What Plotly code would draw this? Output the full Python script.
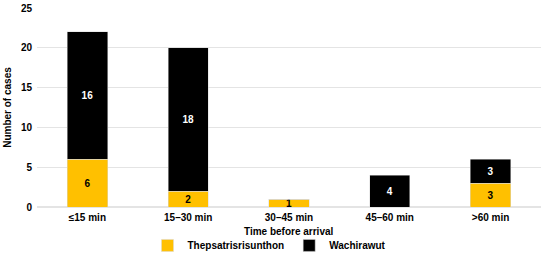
import plotly.graph_objects as go

categories = ["≤15 min", "15–30 min", "30–45 min", "45–60 min", ">60 min"]
thep = [6, 2, 1, 0, 3]
wachi = [16, 18, 0, 4, 3]
y_ticks = [0, 5, 10, 15, 20, 25]
x_title = "Time before arrival"
y_title = "Number of cases"

FONT = "Liberation Sans, Arial, sans-serif"
FS = 10

def labels(vals):
    return [str(v) if v else "" for v in vals]

fig = go.Figure()
fig.add_trace(go.Bar(
    x=categories, y=thep, name="Thepsatrisrisunthon",
    marker=dict(color="#FFC000", line=dict(color="#d9d9d9", width=0.5)),
    text=labels(thep), textposition="inside", insidetextanchor="middle", textangle=0,
    textfont=dict(family=FONT, size=FS, color="black", weight="bold"),
))
fig.add_trace(go.Bar(
    x=categories, y=wachi, name="Wachirawut",
    marker=dict(color="#000000", line=dict(color="#d9d9d9", width=0.5)),
    text=labels(wachi), textposition="inside", insidetextanchor="middle", textangle=0,
    textfont=dict(family=FONT, size=FS, color="white", weight="bold"),
))

fig.update_layout(
    barmode="stack", bargap=0.6,
    width=550, height=253,
    margin=dict(l=37, r=9, t=8, b=46, autoexpand=False),
    plot_bgcolor="white", paper_bgcolor="white",
    font=dict(family=FONT, size=FS, color="black", weight="bold"),
    uniformtext=dict(minsize=FS, mode="show"),
    showlegend=True,
    legend=dict(orientation="h", xref="container", yref="container",
                x=0.49, xanchor="center", y=0.03, yanchor="middle",
                font=dict(size=FS, weight="bold"), traceorder="normal",
                itemwidth=30, tracegroupgap=0),
    xaxis=dict(showgrid=False, showline=False, ticks="", ticklabelstandoff=3,
               tickfont=dict(size=FS, weight="bold")),
    yaxis=dict(range=[0, 25], tickvals=y_ticks, showgrid=True, gridcolor="#e4e4e4",
               gridwidth=1, zeroline=True, zerolinecolor="#e4e4e4", ticklabeloverflow="allow",
               ticklabelstandoff=4,
               title=dict(text=y_title, standoff=7, font=dict(size=FS, weight="bold")),
               tickfont=dict(size=FS, weight="bold"), ticks=""),
    annotations=[dict(text=x_title, xref="paper", yref="paper", x=0.5, y=-24 / 199,
                      xanchor="center", yanchor="middle", showarrow=False,
                      font=dict(size=FS, weight="bold"))],
)

fig.write_html("out.html", config={"displayModeBar": False},
               post_script="document.body.style.margin='0px';")
